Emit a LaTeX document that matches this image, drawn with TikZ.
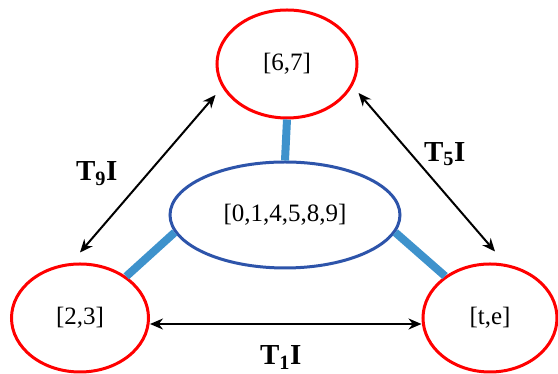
\documentclass[tikz,border=0pt]{standalone}
\usepackage{fontspec}
\setmainfont{Liberation Serif}
\usepackage{tikz}
\usetikzlibrary{arrows.meta, positioning, calc, shapes.geometric}

\definecolor{coreblue}{RGB}{45,84,170}
\definecolor{linkblue}{RGB}{62,146,204}

\begin{document}
\begin{tikzpicture}[
    x=1pt, y=1pt, >={Stealth[length=13pt,width=11pt]},
    outer/.style={ellipse, draw=red, line width=3pt, fill=white, inner sep=0pt, font=\fontsize{25}{29}\selectfont},
    core/.style ={ellipse, draw=coreblue, line width=3pt, fill=white, inner sep=0pt, minimum width=230pt, minimum height=106pt, font=\fontsize{25}{29}\selectfont},
    link/.style ={draw=linkblue, line width=8pt},
    trans/.style={<->, line width=2pt},
    lbl/.style  ={font=\fontsize{29}{32}\selectfont\bfseries},
]
\useasboundingbox (0,0) rectangle (558,374);
\node[core] (set) at (285,159) {[0,1,4,5,8,9]};
\node[outer, minimum width=140pt, minimum height=108pt] (top)   at (287,310) {[6,7]};
\node[outer, minimum width=137pt, minimum height=108pt] (left)  at (80,56)   {[2,3]};
\node[outer, minimum width=134pt, minimum height=108pt] (right) at (490,56)  {[t,e]};
\draw[link] (set.north) -- (top.south);
\draw[link] (set.189) -- (left.42);
\draw[link] (set.351) -- (right.137);
\draw[trans] ([yshift=10pt]left.north) -- node[lbl, left=26pt]{T\textsubscript{9}I} ([yshift=-31pt]top.west);
\draw[trans] ([yshift=-29pt]top.east) -- node[lbl, xshift=18pt, yshift=18pt]{T\textsubscript{5}I} ([xshift=5pt,yshift=11pt]right.north);
\draw[trans] ([yshift=-6pt]left.east) -- node[lbl, below=17pt, xshift=-5pt]{T\textsubscript{1}I} ([yshift=-6pt]right.west);
\end{tikzpicture}
\end{document}
